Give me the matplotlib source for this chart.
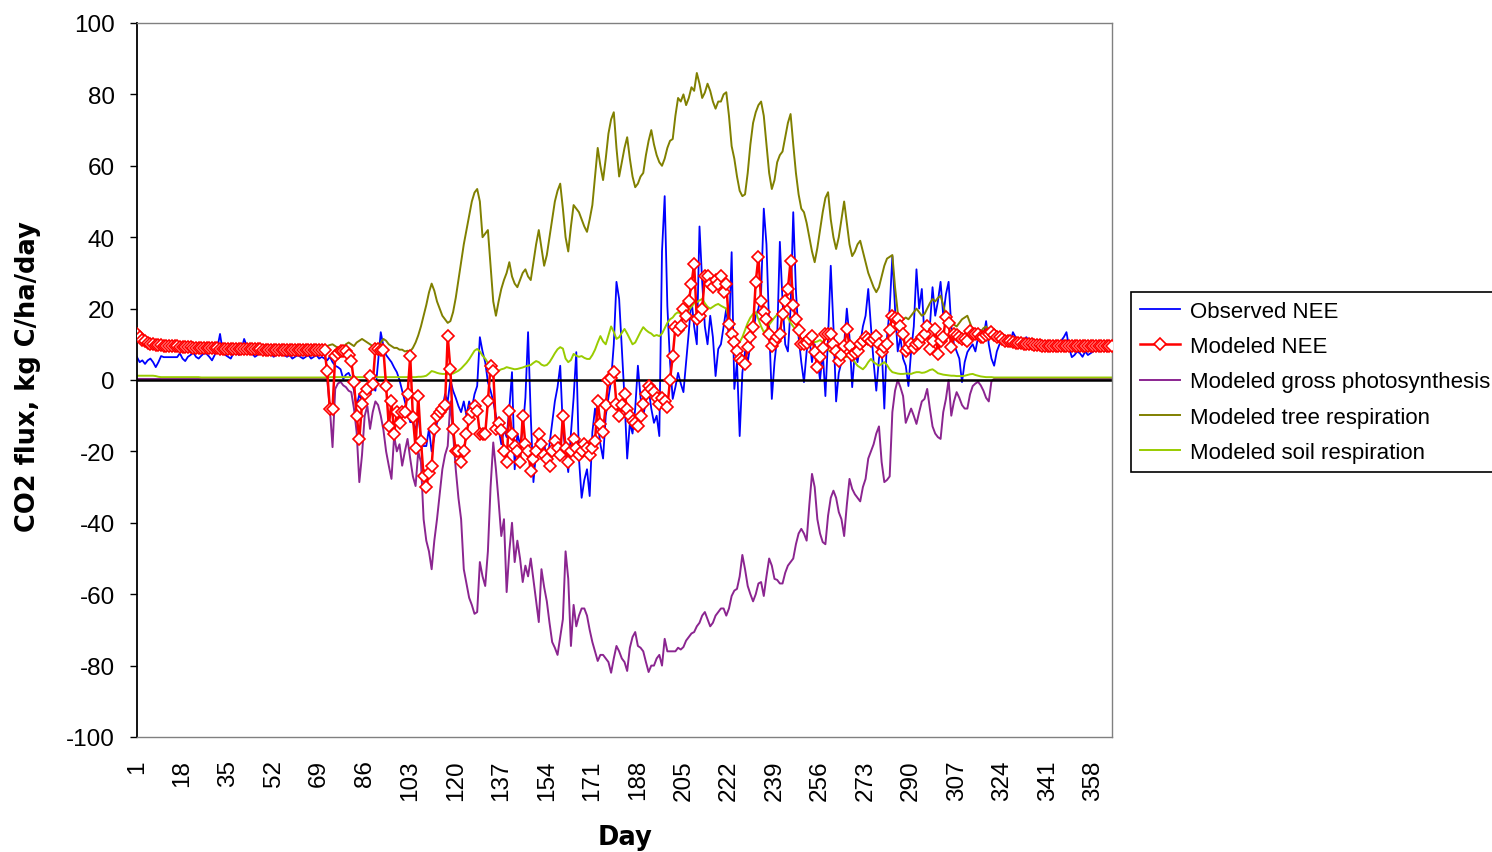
import numpy as np
import matplotlib
matplotlib.use("Agg")
import matplotlib.pyplot as plt

# daily values, day 1 .. 365
days = np.arange(1, 366)

observed_nee = [
    6.4, 5.0, 5.5, 4.5, 5.5, 6.0, 5.0, 3.6, 5.0, 6.7,
    6.4, 6.4, 6.4, 6.4, 6.4, 6.4, 7.5, 6.0, 5.3, 6.5,
    7.0, 7.8, 6.5, 6.0, 6.8, 7.5, 7.3, 6.5, 5.5, 7.0,
    9.0, 12.9, 8.0, 7.0, 6.5, 6.0, 7.5, 8.0, 7.0, 8.5,
    11.5, 9.5, 8.0, 7.5, 6.5, 7.0, 8.5, 9.0, 7.5, 8.0,
    7.5, 6.5, 7.0, 8.0, 7.5, 7.0, 6.5, 7.0, 6.0, 6.5,
    7.0, 6.5, 6.0, 6.5, 7.0, 6.0, 6.5, 7.0, 6.0, 6.5,
    6.0, 5.5, 6.5, 5.0, 4.0, 3.6, 3.0, 0.3, 1.5, 2.0,
    0.5, -3.0, -7.3, -4.0, -6.0, -5.0, -3.0, -4.0, -2.0, -3.0,
    5.0, 13.4, 9.5, 7.0, 6.0, 5.0, 3.5, 2.2, 0.0, -3.0,
    -6.0, -9.0, -11.8, -11.8, -14.0, -10.0, -16.0, -18.5, -18.5, -13.7,
    -20.0, -16.0, -12.0, -10.0, -8.0, -4.0, -6.0, 0.0, -3.0, -5.0,
    -7.3, -9.0, -6.0, -10.0, -6.0, -8.0, -4.0, -1.7, 12.0, 8.0,
    5.0, -0.6, -3.0, -6.0, -10.0, -13.7, -18.0, -14.0, -16.0, -8.0,
    2.2, -25.0, -15.0, -18.0, -14.0, -5.0, 13.4, -10.0, -28.6, -20.0,
    -15.0, -22.0, -17.0, -24.0, -18.0, -12.0, -6.0, -2.0, 4.0, -13.7,
    -20.0, -25.8, -15.0, -5.0, 7.8, -22.0, -33.0, -28.0, -25.0, -32.5,
    -14.6, -8.0, -12.0, -18.0, -22.0, -10.0, -5.0, 0.0, 10.0, 27.5,
    22.7, 8.7, -5.0, -22.0, -12.0, -15.0, -8.0, 4.0, -5.0, -10.0,
    -6.0, -2.5, -8.0, -12.0, -10.0, -15.7, 36.0, 51.5, 20.7, 5.0,
    -5.3, -2.0, 2.0, -1.0, -3.4, 5.0, 13.4, 22.7, 15.0, 10.0,
    43.0, 27.5, 15.0, 10.0, 18.0, 12.0, 1.1, 8.7, 10.0, 15.0,
    20.0, 12.0, 35.8, -2.5, 5.0, -15.7, 2.0, 8.0, 5.0, 10.0,
    13.4, 18.0, 20.0, 24.6, 48.0, 38.0, 15.0, -5.3, 5.0, 12.0,
    38.7, 22.0, 10.0, 8.0, 20.0, 47.0, 25.0, 12.0, 5.0, -0.6,
    8.0, 12.0, 5.0, 10.0, 6.0, 0.0, 8.0, -4.5, 12.0, 32.0,
    15.0, -6.0, 2.0, 5.0, 10.0, 20.0, 12.0, -2.0, 8.0, 5.0,
    10.0, 15.0, 18.0, 25.5, 15.0, 5.0, -3.0, 6.0, 9.5, -8.0,
    12.0, 20.0, 34.7, 20.0, 8.0, 12.0, 6.0, 4.0, -1.7, 8.0,
    15.0, 31.0, 20.0, 25.5, 12.0, 16.0, 15.0, 26.0, 18.0, 22.0,
    27.5, 18.0, 24.0, 27.5, 15.0, 10.0, 8.0, 6.0, -0.6, 5.0,
    7.8, 9.0, 10.0, 8.0, 12.0, 14.0, 12.0, 16.5, 10.0, 6.0,
    4.0, 8.0, 10.0, 12.0, 11.0, 12.0, 10.0, 13.4, 12.0, 11.0,
    10.0, 11.0, 12.0, 11.0, 10.0, 11.0, 10.5, 11.0, 10.0, 10.5,
    10.0, 9.5, 10.0, 10.5, 10.0, 11.0, 12.0, 13.4, 9.0, 6.4,
    7.0, 8.0, 7.5, 6.5, 8.0, 7.0, 7.5, 8.0, 8.5, 9.0,
    8.5, 9.0, 8.0, 8.5, 9.0,
]

modeled_nee = [
    13.0, 12.0, 11.3, 10.8, 10.5, 10.2, 10.0, 9.9, 9.8, 9.7,
    9.6, 9.6, 9.5, 9.5, 9.4, 9.4, 9.3, 9.3, 9.2, 9.2,
    9.2, 9.1, 9.1, 9.1, 9.0, 9.0, 9.0, 8.9, 8.9, 8.9,
    8.9, 8.8, 8.8, 8.8, 8.8, 8.8, 8.7, 8.7, 8.7, 8.7,
    8.7, 8.6, 8.6, 8.6, 8.6, 8.6, 8.6, 8.5, 8.5, 8.5,
    8.5, 8.5, 8.5, 8.5, 8.4, 8.4, 8.4, 8.4, 8.4, 8.4,
    8.4, 8.4, 8.3, 8.3, 8.3, 8.3, 8.3, 8.3, 8.3, 8.3,
    8.3, 2.5, -8.0, -8.0, 6.7, 7.5, 8.0, 8.0, 8.0, 7.0,
    5.3, -0.6, -10.0, -16.5, -6.7, -4.0, -2.5, 1.1, -1.0, 8.7,
    8.7, 8.5, 8.5, -1.7, -12.9, -6.0, -15.0, -9.0, -12.0, -9.0,
    -9.0, -4.0, 6.7, -10.4, -19.0, -4.5, -17.0, -27.0, -30.0, -26.0,
    -24.0, -13.7, -10.0, -9.0, -8.0, -7.0, 12.3, 3.0, -13.7, -20.0,
    -20.0, -23.0, -20.0, -15.0, -11.0, -9.0, -7.3, -8.7, -15.0, -15.0,
    -15.0, -6.0, 4.0, 2.5, -13.7, -12.0, -14.0, -20.0, -23.0, -8.7,
    -15.0, -18.5, -20.0, -23.0, -10.0, -18.0, -20.0, -25.5, -22.0, -20.0,
    -15.0, -18.0, -21.0, -22.0, -24.0, -20.0, -17.0, -19.0, -21.0, -10.0,
    -19.0, -23.0, -20.0, -16.5, -19.0, -21.0, -20.0, -18.0, -19.0, -21.0,
    -19.0, -17.0, -6.0, -12.3, -14.6, -7.0, 0.0, 0.7, 2.2, -6.7,
    -10.0, -7.0, -4.0, -8.0, -10.0, -11.5, -12.0, -13.0, -10.0, -6.7,
    -4.0, -1.7, -2.5, -3.5, -5.0, -6.7, -5.0, -6.0, -7.6, 0.0,
    6.7, 14.8, 14.0, 15.0, 20.0, 18.0, 22.0, 27.0, 32.5, 17.0,
    18.0, 20.0, 29.0, 29.0, 27.0, 26.0, 28.0, 27.0, 29.0, 24.6,
    27.0, 15.7, 12.9, 10.6, 8.0, 6.0, 5.3, 4.5, 9.2, 12.0,
    14.8, 27.5, 34.4, 22.0, 19.0, 17.0, 13.0, 9.5, 11.0, 12.0,
    13.0, 18.5, 22.0, 25.5, 33.3, 21.0, 17.0, 14.0, 10.0, 10.0,
    10.5, 11.5, 12.3, 7.8, 3.6, 6.5, 9.0, 12.9, 13.0, 12.9,
    10.0, 8.0, 5.3, 7.0, 9.5, 14.3, 9.5, 7.0, 7.5, 8.0,
    10.0, 11.0, 12.0, 11.5, 11.0, 11.5, 12.3, 10.0, 7.8, 9.2,
    10.0, 14.0, 18.0, 17.5, 17.0, 15.0, 12.9, 8.0, 9.0, 10.0,
    9.0, 10.0, 10.5, 12.0, 13.0, 15.0, 8.7, 11.0, 14.3, 7.3,
    11.0, 12.0, 17.7, 16.0, 9.2, 13.0, 12.5, 12.0, 11.5, 11.5,
    11.0, 13.7, 13.0, 13.0, 13.0, 12.0, 12.0, 12.5, 13.0, 13.5,
    12.5, 12.0, 12.0, 11.5, 11.0, 11.0, 10.8, 10.6, 10.5, 10.4,
    10.3, 10.2, 10.1, 10.0, 10.0, 9.9, 9.8, 9.7, 9.6, 9.5,
    9.5, 9.5, 9.5, 9.5, 9.5, 9.5, 9.5, 9.5, 9.5, 9.5,
    9.5, 9.5, 9.5, 9.5, 9.5, 9.5, 9.5, 9.5, 9.5, 9.5,
    9.5, 9.5, 9.5, 9.5, 9.5,
]

gross_photosynthesis = [
    0.3, 0.3, 0.3, 0.3, 0.3, 0.3, 0.3, 0.3, 0.3, 0.3,
    0.3, 0.3, 0.3, 0.3, 0.3, 0.3, 0.3, 0.3, 0.3, 0.3,
    0.3, 0.3, 0.3, 0.3, 0.3, 0.3, 0.3, 0.3, 0.3, 0.3,
    0.3, 0.3, 0.3, 0.3, 0.3, 0.3, 0.3, 0.3, 0.3, 0.3,
    0.3, 0.3, 0.3, 0.3, 0.3, 0.3, 0.3, 0.3, 0.3, 0.3,
    0.3, 0.3, 0.3, 0.3, 0.3, 0.3, 0.3, 0.3, 0.3, 0.3,
    0.3, 0.3, 0.3, 0.3, 0.3, 0.3, 0.3, 0.3, 0.3, 0.3,
    0.3, 0.3, -8.0, -18.8, -2.5, -1.0, -0.5, -1.5, -2.0, -3.0,
    -3.4, -8.0, -14.6, -28.6, -21.0, -10.0, -7.3, -13.7, -9.0, -6.0,
    -7.0, -10.0, -14.0, -20.0, -24.0, -27.7, -15.7, -20.0, -18.0, -24.0,
    -20.0, -16.5, -22.0, -27.0, -29.7, -20.0, -23.0, -39.0, -45.0, -48.0,
    -53.0, -45.0, -39.0, -32.0, -25.0, -21.0, -18.5, -6.0, -15.0, -25.0,
    -33.0, -39.0, -53.0, -57.0, -61.0, -63.0, -65.5, -65.0, -51.0, -55.0,
    -57.7, -48.0, -30.0, -17.5, -25.0, -34.0, -43.7, -39.0, -59.4, -48.0,
    -40.0, -51.0, -45.0, -50.0, -56.6, -52.0, -55.0, -50.0, -56.0, -62.0,
    -67.8, -53.0, -58.0, -62.0, -68.0, -73.4, -75.0, -77.0, -72.0, -67.0,
    -48.0, -55.7, -74.5, -63.0, -69.0, -66.0, -64.0, -64.0, -66.0, -70.0,
    -73.4, -76.0, -78.7, -77.0, -77.0, -78.0, -79.0, -82.0, -78.0, -74.5,
    -76.0, -78.0, -79.0, -81.5, -75.0, -72.0, -70.6, -74.5, -75.0, -76.0,
    -79.0, -81.8, -80.0, -80.0, -78.0, -77.0, -80.0, -72.5, -76.0, -76.0,
    -76.0, -76.0, -75.0, -75.5, -74.8, -73.0, -72.0, -71.0, -70.6, -69.0,
    -68.0, -66.0, -65.0, -67.0, -69.0, -68.0, -66.0, -65.0, -64.0, -64.0,
    -66.0, -64.0, -60.5, -59.0, -58.5, -55.0, -49.0, -53.0, -57.7, -60.0,
    -62.0, -60.0, -57.0, -56.6, -60.5, -55.0, -50.0, -52.0, -55.7, -56.0,
    -57.0, -57.0, -54.0, -52.0, -51.0, -50.0, -46.0, -43.0, -41.7, -43.0,
    -45.0, -35.0, -26.3, -30.0, -39.0, -43.0, -45.4, -46.0, -38.0, -33.0,
    -31.0, -33.0, -37.0, -39.0, -43.7, -35.0, -27.7, -30.5, -32.0, -33.0,
    -34.0, -30.0, -27.7, -22.0, -20.0, -18.0, -15.0, -13.0, -23.0, -28.6,
    -28.0, -27.0, -9.0, -3.0, 0.0, -2.0, -4.5, -12.0, -10.0, -8.0,
    -10.0, -12.3, -9.0, -6.0, -5.3, -2.5, -8.0, -13.0, -15.0, -16.0,
    -16.5, -9.0, -5.3, 0.0, -10.0, -6.0, -3.4, -5.0, -7.0, -8.0,
    -8.0, -4.0, -1.7, -1.0, -0.5, -1.5, -3.0, -5.0, -6.0, -0.3,
    0.3, 0.3, 0.3, 0.3, 0.3, 0.3, 0.3, 0.3, 0.3, 0.3,
    0.3, 0.3, 0.3, 0.3, 0.3, 0.3, 0.3, 0.3, 0.3, 0.3,
    0.3, 0.3, 0.3, 0.3, 0.3, 0.3, 0.3, 0.3, 0.3, 0.3,
    0.3, 0.3, 0.3, 0.3, 0.3, 0.3, 0.3, 0.3, 0.3, 0.3,
    0.3, 0.3, 0.3, 0.3, 0.3,
]

tree_respiration = [
    11.6, 11.0, 10.4, 10.0, 9.7, 9.5, 9.3, 9.2, 9.2, 9.1,
    9.0, 9.0, 8.9, 8.9, 8.8, 8.8, 8.8, 8.7, 8.7, 8.7,
    8.6, 8.6, 8.6, 8.5, 8.5, 8.5, 8.5, 8.4, 8.4, 8.4,
    8.4, 8.3, 8.3, 8.3, 8.3, 8.2, 8.2, 8.2, 8.2, 8.1,
    8.1, 8.1, 8.1, 8.0, 8.0, 8.0, 8.0, 8.0, 7.9, 7.9,
    7.9, 7.9, 7.9, 7.8, 7.8, 7.8, 7.8, 7.8, 7.7, 7.7,
    7.7, 7.7, 7.7, 7.7, 7.6, 7.6, 7.6, 7.6, 7.6, 7.6,
    8.5, 9.5, 9.8, 10.0, 9.5, 9.0, 8.8, 9.3, 10.0, 10.5,
    10.0, 9.5, 10.5, 11.0, 11.5, 11.0, 10.5, 10.0, 9.5, 9.0,
    9.5, 10.5, 11.5, 11.0, 10.0, 9.5, 9.0, 9.0, 8.5, 8.5,
    8.0, 8.2, 8.0, 9.0, 10.5, 12.5, 15.0, 18.0, 21.0, 24.5,
    27.0, 25.0, 22.0, 20.0, 18.0, 17.0, 16.0, 16.5, 19.0, 23.0,
    28.0, 33.0, 38.0, 42.0, 46.0, 50.0, 52.5, 53.5, 50.0, 40.0,
    41.0, 42.0, 32.0, 22.0, 18.0, 22.0, 25.5, 28.0, 30.0, 33.0,
    29.0, 27.0, 26.0, 28.0, 30.0, 31.0, 29.0, 28.0, 33.0, 38.0,
    42.0, 37.0, 32.0, 35.0, 40.0, 45.0, 50.0, 53.0, 55.0, 48.0,
    40.0, 36.0, 43.0, 49.0, 48.0, 47.0, 45.0, 43.0, 41.5, 45.0,
    49.0, 57.0, 65.0, 60.0, 56.0, 62.0, 69.0, 73.0, 75.0, 65.0,
    57.0, 61.0, 65.0, 68.0, 62.0, 57.0, 54.0, 55.0, 57.0, 58.0,
    63.0, 67.0, 70.0, 66.0, 63.0, 61.0, 60.0, 62.0, 65.0, 67.0,
    67.5, 74.0, 79.0, 78.0, 80.0, 77.0, 79.0, 82.0, 81.0, 86.0,
    83.0, 79.0, 80.5, 83.0, 81.0, 78.0, 76.0, 78.0, 78.0, 80.0,
    80.6, 74.0, 65.5, 62.0, 57.0, 53.0, 51.5, 52.0, 58.0, 66.0,
    72.0, 75.0, 77.0, 78.0, 74.0, 66.0, 58.0, 53.5, 56.0, 61.0,
    63.0, 64.0, 68.0, 72.0, 74.5, 66.0, 58.0, 52.0, 48.0, 47.0,
    44.0, 40.0, 36.0, 33.0, 37.0, 42.0, 47.0, 51.0, 52.6, 45.0,
    40.0, 36.7, 40.0, 45.0, 50.0, 44.0, 38.0, 34.7, 36.0, 38.0,
    39.0, 36.0, 33.0, 30.0, 28.0, 26.0, 24.6, 26.0, 29.0, 32.0,
    34.0, 34.5, 35.0, 26.0, 19.0, 17.0, 17.0, 17.5, 17.0, 18.0,
    19.0, 20.0, 19.0, 18.0, 18.5, 20.0, 21.5, 22.7, 22.0, 23.0,
    23.6, 21.0, 18.0, 17.0, 16.0, 15.5, 15.0, 16.0, 17.0, 17.5,
    18.0, 16.0, 14.0, 13.0, 12.5, 13.5, 14.5, 15.0, 13.0, 12.5,
    11.5, 11.0, 10.5, 10.0, 9.8, 9.6, 9.5, 9.4, 9.3, 9.2,
    9.2, 9.1, 9.1, 9.0, 9.0, 9.0, 8.9, 8.9, 8.9, 8.9,
    8.8, 8.8, 8.8, 8.8, 8.8, 8.8, 8.8, 8.8, 8.8, 8.8,
    8.8, 8.8, 8.8, 8.8, 8.8, 8.8, 8.8, 8.8, 8.8, 8.8,
    8.8, 8.8, 8.8, 8.8, 8.8,
]

soil_respiration = [
    1.2, 1.2, 1.2, 1.2, 1.2, 1.2, 1.2, 1.1, 0.9, 0.8,
    0.8, 0.8, 0.8, 0.8, 0.8, 0.8, 0.8, 0.8, 0.8, 0.8,
    0.8, 0.8, 0.8, 0.8, 0.7, 0.7, 0.7, 0.7, 0.7, 0.7,
    0.7, 0.7, 0.7, 0.7, 0.7, 0.7, 0.7, 0.7, 0.7, 0.7,
    0.7, 0.7, 0.7, 0.7, 0.7, 0.7, 0.7, 0.7, 0.7, 0.7,
    0.7, 0.7, 0.7, 0.7, 0.7, 0.7, 0.7, 0.7, 0.7, 0.7,
    0.7, 0.7, 0.7, 0.7, 0.7, 0.7, 0.7, 0.7, 0.7, 0.7,
    0.7, 0.7, 0.8, 0.8, 0.8, 0.8, 0.8, 0.8, 0.8, 0.8,
    0.8, 0.8, 0.8, 0.8, 0.8, 0.8, 0.8, 0.8, 0.8, 0.8,
    0.8, 0.8, 0.8, 0.8, 0.8, 0.8, 0.8, 0.8, 0.8, 0.8,
    0.8, 0.8, 0.8, 0.8, 0.8, 0.9, 0.9, 1.0, 1.2, 1.8,
    2.5, 2.3, 2.0, 1.8, 1.7, 1.7, 1.6, 1.7, 1.8, 2.2,
    2.6, 3.2, 4.0, 4.8, 5.8, 7.0, 8.2, 8.7, 8.0, 6.8,
    6.0, 4.8, 3.5, 2.6, 2.2, 2.6, 3.0, 3.2, 3.6, 3.4,
    3.2, 3.0, 3.1, 3.3, 3.5, 3.8, 4.0, 4.2, 4.8, 5.3,
    5.0, 4.3, 4.0, 4.2, 5.0, 6.2, 7.5, 8.6, 9.2, 8.8,
    6.0, 5.0, 5.6, 7.3, 6.8, 6.5, 6.7, 6.2, 5.9, 5.9,
    7.0, 8.5, 10.5, 12.3, 10.8, 10.0, 12.5, 15.0, 13.5, 11.5,
    12.0, 13.2, 14.3, 13.0, 11.5, 10.0, 10.5, 12.0, 13.5, 14.8,
    14.0, 13.4, 13.0, 12.3, 12.6, 12.3, 13.0, 14.5, 16.0, 17.0,
    17.5, 18.5, 19.0, 18.5, 18.0, 18.3, 19.5, 20.5, 21.5, 21.8,
    22.3, 22.7, 21.5, 20.5, 20.0, 20.5, 21.0, 21.3, 20.8, 20.4,
    20.0, 17.0, 14.5, 12.3, 11.0, 10.6, 12.0, 14.0, 16.0, 17.5,
    18.5, 19.0, 17.0, 15.0, 13.4, 14.0, 15.5, 16.5, 17.5, 18.3,
    18.8, 19.0, 19.0, 17.5, 16.0, 15.0, 14.0, 12.5, 11.5, 10.6,
    11.0, 11.5, 11.0, 10.6, 10.8, 11.2, 10.6, 9.5, 8.5, 7.8,
    7.5, 7.0, 6.5, 5.9, 6.3, 6.5, 6.7, 6.0, 5.0, 4.0,
    3.5, 3.0, 3.8, 5.0, 5.9, 5.0, 4.5, 4.0, 4.5, 5.0,
    4.2, 3.0, 2.2, 2.0, 1.8, 1.7, 1.7, 1.8, 1.8, 1.7,
    2.0, 2.2, 2.2, 2.0, 2.1, 2.4, 2.8, 3.0, 2.5, 1.9,
    1.7, 1.5, 1.4, 1.3, 1.2, 1.2, 1.1, 1.1, 1.1, 1.2,
    1.4, 1.6, 1.7, 1.4, 1.2, 1.0, 0.9, 0.8, 0.8, 0.8,
    0.7, 0.7, 0.7, 0.7, 0.7, 0.7, 0.7, 0.7, 0.7, 0.7,
    0.7, 0.7, 0.7, 0.7, 0.7, 0.7, 0.7, 0.7, 0.7, 0.7,
    0.7, 0.7, 0.7, 0.7, 0.7, 0.7, 0.7, 0.7, 0.7, 0.7,
    0.7, 0.7, 0.7, 0.7, 0.7, 0.7, 0.7, 0.7, 0.7, 0.7,
    0.7, 0.7, 0.7, 0.7, 0.7,
]

for name, s in [("observed", observed_nee), ("modeled", modeled_nee),
                ("gross", gross_photosynthesis), ("tree", tree_respiration),
                ("soil", soil_respiration)]:
    assert len(s) == 365, (name, len(s))

plt.rcParams['font.family'] = ['Liberation Sans', 'DejaVu Sans']
plt.rcParams['axes.unicode_minus'] = False

fig = plt.figure(figsize=(14.92, 8.53), dpi=100)
ax = fig.add_axes([137 / 1492, 1 - 738 / 853, 975 / 1492, 714 / 853])

ax.plot(days, observed_nee, color='#0000FF', lw=1.3, zorder=2,
        label='Observed NEE')
ax.plot(days, gross_photosynthesis, color='#8B2590', lw=1.4, zorder=2.1,
        label='Modeled gross photosynthesis')
ax.plot(days, tree_respiration, color='#808000', lw=1.4, zorder=2.2,
        label='Modeled tree respiration')
ax.plot(days, soil_respiration, color='#99CC00', lw=1.4, zorder=2.3,
        label='Modeled soil respiration')
ax.axhline(0, color='black', lw=1.8, zorder=2.5)
ax.plot(days, modeled_nee, color='#FF0000', lw=1.8, zorder=3,
        marker='D', ms=6, mfc='white', mec='#FF0000', mew=1.2,
        label='Modeled NEE')

ax.set_xlim(1, 365)
ax.set_ylim(-100, 100)
ax.set_yticks(range(-100, 101, 20))
ax.set_xticks(range(1, 366, 17))
ax.set_xticklabels([str(d) for d in range(1, 366, 17)], rotation=90)
ax.tick_params(axis='x', length=0, pad=16, labelsize=17.5)
ax.tick_params(axis='y', direction='out', length=5, width=1, pad=11,
               labelsize=17.5)

for side in ['top', 'right', 'bottom']:
    ax.spines[side].set_color('#808080')
    ax.spines[side].set_linewidth(1)
ax.spines['left'].set_color('black')
ax.spines['left'].set_linewidth(1.3)

fig.text(28 / 1492, 1 - 377 / 853, 'CO2 flux, kg C/ha/day', rotation=90,
         ha='center', va='center', fontsize=18.5, fontweight='bold',
         family='DejaVu Sans')
fig.text(625 / 1492, 1 - 838 / 853, 'Day', ha='center', va='center',
         fontsize=18.5, fontweight='bold', family='DejaVu Sans')

handles, labels = ax.get_legend_handles_labels()
order = ['Observed NEE', 'Modeled NEE', 'Modeled gross photosynthesis',
         'Modeled tree respiration', 'Modeled soil respiration']
by_label = dict(zip(labels, handles))
leg = ax.legend([by_label[k] for k in order], order, loc='upper left',
                bbox_to_anchor=(1131 / 1492, 1 - 293 / 853),
                bbox_transform=fig.transFigure, borderaxespad=0,
                fontsize=16, frameon=True, fancybox=False, framealpha=1,
                edgecolor='black', handlelength=1.8, handletextpad=0.45,
                labelspacing=0.64, borderpad=0.4, numpoints=1)
leg.get_frame().set_linewidth(1.2)

fig.savefig('out.png', dpi=100)
